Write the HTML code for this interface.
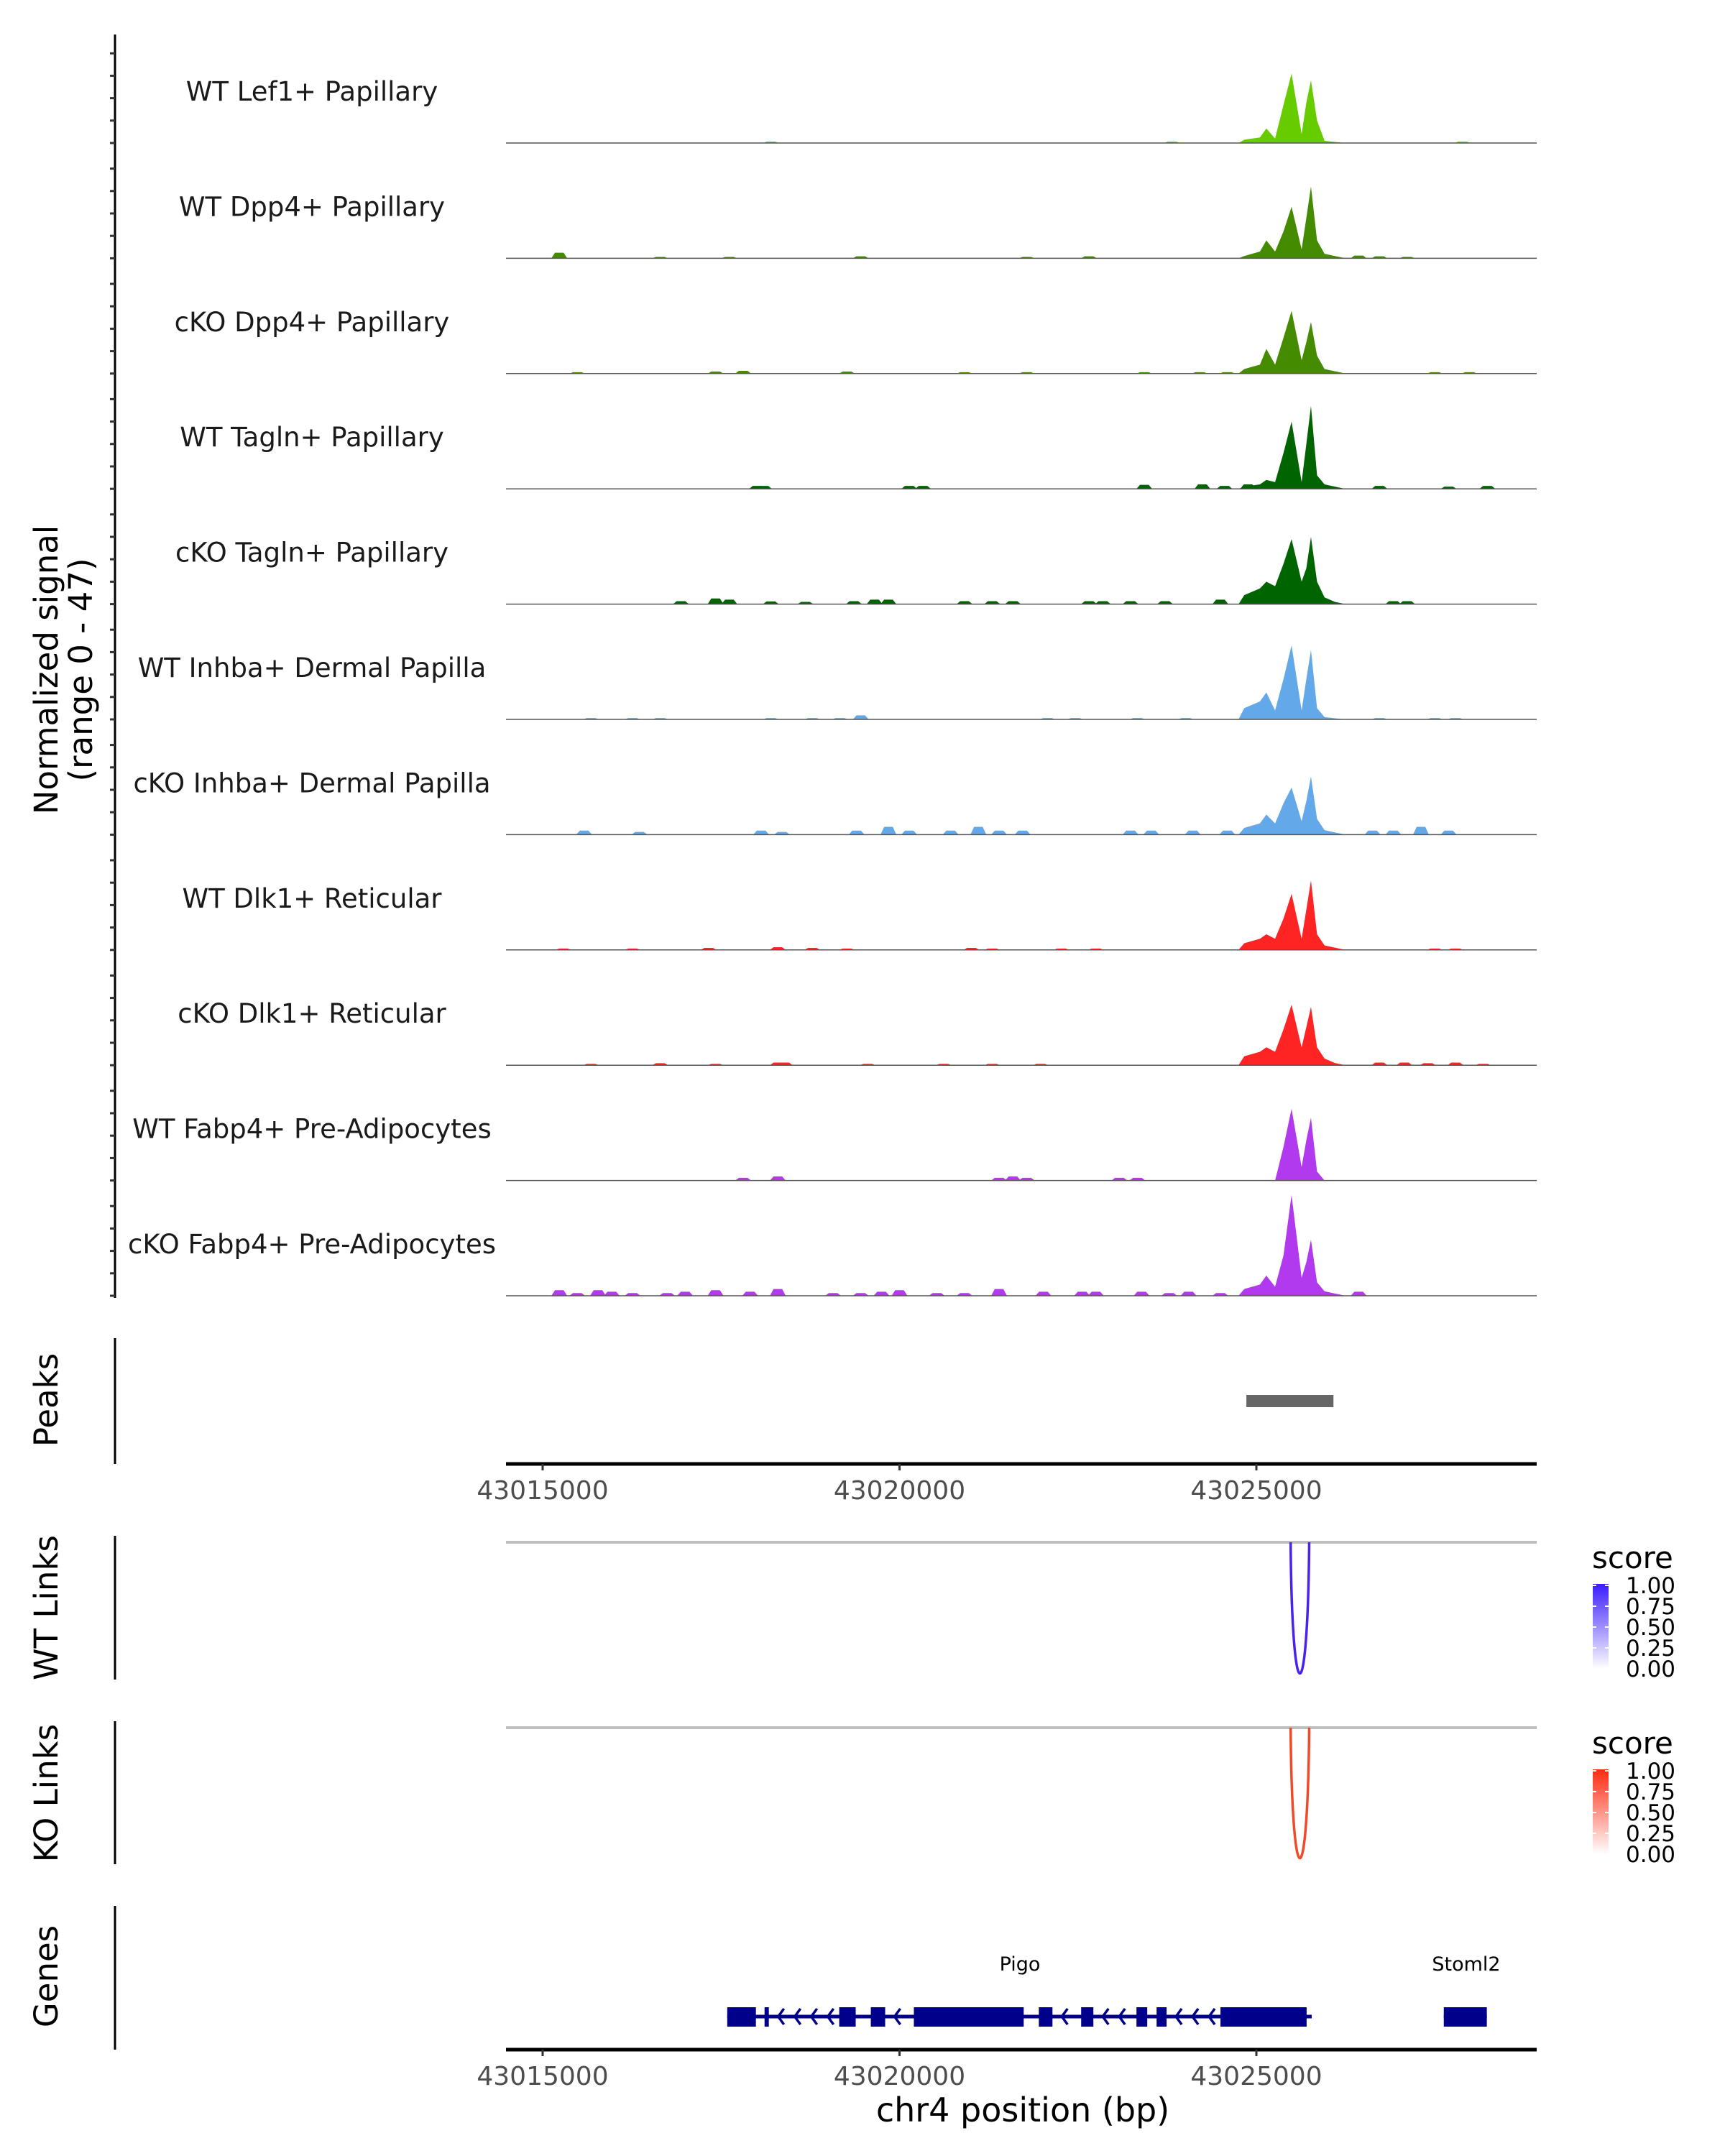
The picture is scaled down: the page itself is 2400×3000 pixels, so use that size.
<!DOCTYPE html>
<html><head><meta charset="utf-8"><style>
html,body{margin:0;padding:0;background:#fff;}
svg{display:block;font-family:"DejaVu Sans","Liberation Sans",sans-serif;}
</style></head><body>
<svg id="chart" width="2400" height="3000" viewBox="0 0 2400 3000" xmlns="http://www.w3.org/2000/svg">
<defs>
<linearGradient id="gradWT" x1="0" y1="1" x2="0" y2="0"><stop offset="0" stop-color="#ffffff"/><stop offset="1" stop-color="#3a1cff"/></linearGradient>
<linearGradient id="gradKO" x1="0" y1="1" x2="0" y2="0"><stop offset="0" stop-color="#ffffff"/><stop offset="1" stop-color="#ff2a10"/></linearGradient>
</defs>
<g id="tracks"></g>
<g id="lower"></g>
</svg>
<script>
const NS = "http://www.w3.org/2000/svg";
// ---------- data ----------
const trackNames = ["WT Lef1+ Papillary","WT Dpp4+ Papillary","cKO Dpp4+ Papillary","WT Tagln+ Papillary","cKO Tagln+ Papillary","WT Inhba+ Dermal Papilla","cKO Inhba+ Dermal Papilla","WT Dlk1+ Reticular","cKO Dlk1+ Reticular","WT Fabp4+ Pre-Adipocytes","cKO Fabp4+ Pre-Adipocytes"];
const trackColors = ["#66cc00","#458b00","#458b00","#006400","#006400","#63a9ea","#63a9ea","#ff2424","#ff2424","#b23aee","#b23aee"];
const peakPos = [43024750,43024830,43025050,43025140,43025262,43025380,43025493,43025634,43025700,43025765,43025850,43025955,43026100,43026250];
const sigLef1 = [0,1.5,2.5,6.5,2,17,31,4,18,28,10,1,0.5,0];
const sigDpp4WT = [0,1,3,8,3,12,23,4,18,32,8,2,1,0];
const sigDpp4KO = [0,2,4,11,4,16,28,6,14,23,8,2,1,0];
const sigTaglnWT = [0,1,2,4,3,16,30,3,20,37,6,2,1,0];
const sigTaglnKO = [0,4,7,10,8,18,29,10,16,30,10,3,1,0];
const sigInhbaWT = [0,5,8,12,4,18,33,4,18,31,5,1,0.5,0];
const sigInhbaKO = [0,3,5,9,5,14,21,6,15,26,7,2,1,0];
const sigDlk1WT = [0,3,5,7,5,14,25,5,18,31,7,2,1,0];
const sigDlk1KO = [0,4,6,8,6,16,27,8,17,26,8,3,1,0];
const sigFabp4WT = [0,0,0,0,0,15,32,6,18,28,4,0,0,0];
const sigFabp4KO = [0,3,5,9,4,18,45,8,15,25,6,2,1,0];
const peakSignals = [sigLef1,sigDpp4WT,sigDpp4KO,sigTaglnWT,sigTaglnKO,sigInhbaWT,sigInhbaKO,sigDlk1WT,sigDlk1KO,sigFabp4WT,sigFabp4KO];
// background bumps: [bp, height]
const bumpsLef1 = [[43018198,0.6],[43023818,0.6],[43027888,0.6]];
const bumpsDpp4WT = [[43015233,2.5],[43016647,0.6],[43017616,0.6],[43019457,0.9],[43021783,0.6],[43022655,0.9],[43026434,1.2],[43026725,0.9],[43027113,0.6]];
const bumpsDpp4KO = [[43015485,0.6],[43017423,0.9],[43017810,1.2],[43019264,0.9],[43020911,0.6],[43021783,0.6],[43023430,0.6],[43024206,0.6],[43024593,0.6],[43027500,0.6],[43027985,0.6]];
const bumpsTaglnWT = [[43018004,1.3],[43018101,1.3],[43020136,1.3],[43020330,1.3],[43023430,1.8],[43024244,2],[43024554,1.3],[43024884,2],[43026725,1.3],[43027694,1],[43028237,1.3]];
const bumpsTaglnKO = [[43016938,1.3],[43017423,2.5],[43017616,2],[43018198,1.2],[43018682,1],[43019361,1.3],[43019651,2],[43019845,2],[43020911,1.3],[43021299,1.3],[43021589,1.3],[43022655,1.3],[43022849,1.3],[43023237,1.3],[43023721,1.3],[43024496,2],[43026919,1.3],[43027113,1.3]];
const bumpsInhbaWT = [[43015678,0.6],[43016260,0.6],[43016647,0.6],[43018198,0.6],[43018779,0.6],[43019167,0.6],[43019457,1.8],[43022074,0.6],[43022461,0.6],[43023333,0.6],[43024012,0.6],[43026725,0.6],[43027500,0.6],[43027791,0.6]];
const bumpsInhbaKO = [[43015581,1.8],[43016357,1.2],[43018062,1.8],[43018353,1.2],[43019399,1.8],[43019845,3.5],[43020136,1.8],[43020717,1.8],[43021105,3.5],[43021395,1.8],[43021725,1.8],[43023237,1.8],[43023527,1.8],[43024109,1.8],[43024593,1.8],[43024942,1.8],[43026628,1.8],[43026919,1.8],[43027306,3.5],[43027694,1.8]];
const bumpsDlk1WT = [[43015291,0.6],[43016260,0.6],[43017326,0.9],[43018295,1.2],[43018779,0.9],[43019264,0.6],[43021008,0.9],[43021299,0.6],[43022268,0.6],[43022752,0.6],[43027500,0.6],[43027791,0.6]];
const bumpsDlk1KO = [[43015678,0.6],[43016647,0.9],[43017423,0.6],[43018295,1.2],[43018392,1.2],[43019554,0.6],[43020620,0.6],[43021299,0.6],[43021977,0.6],[43026725,1.2],[43027074,1.2],[43027403,0.9],[43027791,1.2],[43028178,0.6]];
const bumpsFabp4WT = [[43017810,1.2],[43018295,1.8],[43021395,1.2],[43021589,1.8],[43021783,1.2],[43023081,1.2],[43023333,1.2]];
const bumpsFabp4KO = [[43015233,2.5],[43015485,1.2],[43015775,2.5],[43015969,1.8],[43016260,1.2],[43016744,1.2],[43016996,1.8],[43017423,2.5],[43017907,1.8],[43018295,3],[43019070,1.2],[43019457,1.2],[43019748,1.8],[43020000,2.5],[43020523,1.2],[43020911,1.2],[43021395,3],[43022016,1.8],[43022558,1.8],[43022752,1.8],[43023392,1.8],[43023779,1.2],[43024050,1.8],[43024496,1.2],[43026434,1.8]];
const trackBumps = [bumpsLef1,bumpsDpp4WT,bumpsDpp4KO,bumpsTaglnWT,bumpsTaglnKO,bumpsInhbaWT,bumpsInhbaKO,bumpsDlk1WT,bumpsDlk1KO,bumpsFabp4WT,bumpsFabp4KO];
const peakRegion = [43024860, 43026080];
const linkWT = [43025480, 43025740, 1.0];
const linkKO = [43025480, 43025740, 1.0];
const xTicks = [43015000, 43020000, 43025000];
const legendTicks = ["1.00","0.75","0.50","0.25","0.00"];
const exonsPigo = [[43017586,43017988],[43018109,43018169],[43019155,43019386],[43019598,43019799],[43020201,43021740],[43021952,43022143],[43022545,43022716],[43023320,43023471],[43023602,43023742],[43024497,43025704]];
const genePigo = [43017586, 43025775];
const exonsStoml2 = [[43027626,43028229]];
const geneStoml2 = [43027626, 43028229];

// ---------- scales ----------
const X0 = 704, X1 = 2138;
function xs(bp){ return 755 + (bp - 43015000) * 0.0993; }
const PX_PER_UNIT = 3.12;
function baseY(i){ return 199 + 160.4 * i; }

function el(tag, attrs, parent){
  const e = document.createElementNS(NS, tag);
  for (const k in attrs) e.setAttribute(k, attrs[k]);
  parent.appendChild(e);
  return e;
}
const tracksG = document.getElementById("tracks");
const lowerG = document.getElementById("lower");

let ax = el("line", {x1:160, y1:48, x2:160, y2:1806, stroke:"#000", "stroke-width":3}, tracksG);


for (let i = 0; i < trackNames.length; i++){
  for (let k = 0; k < 5; k++){
    const y = baseY(i) - k * 10 * PX_PER_UNIT;
    const t = el("line", {x1:153, y1:y, x2:160, y2:y, stroke:"#333", "stroke-width":3}, tracksG);
    
    
  }
}
const yt = el("text", {transform:"translate(80,932) rotate(-90)", "text-anchor":"middle", "font-size":45, fill:"#000"}, tracksG);


const yt1 = el("tspan", {x:0, y:0}, yt); yt1.textContent = "Normalized signal";
const yt2 = el("tspan", {x:0, y:48}, yt); yt2.textContent = "(range 0 - 47)";

for (let i = 0; i < trackNames.length; i++){
  const g = el("g", {}, tracksG);
  
  
  const b = baseY(i);
  const col = trackColors[i];
  for (const [bp, h] of trackBumps[i]){
    const cx = xs(bp), hy = b - h * PX_PER_UNIT;
    const p = el("path", {d:`M${cx-11},${b} L${cx-6},${hy} L${cx+6},${hy} L${cx+11},${b} Z`, fill:col}, g);
    
    
  }
  let d = `M${xs(peakPos[0])},${b}`;
  const sig = peakSignals[i];
  for (let k = 0; k < peakPos.length; k++) d += ` L${xs(peakPos[k])},${b - sig[k] * PX_PER_UNIT}`;
  d += ` L${xs(peakPos[peakPos.length-1])},${b} Z`;
  const pk = el("path", {d, fill:col}, g);
  
  
  const bl = el("line", {x1:X0, y1:b, x2:X1, y2:b, stroke:"#555", "stroke-width":1.5}, g);
  
  
  const lab = el("text", {x:434, y:b - 59, "text-anchor":"middle", "font-size":37, fill:"#1a1a1a"}, g);
  lab.textContent = trackNames[i];
  
  
}

function panelTitle(txt, cy, name){
  const t = el("text", {transform:`translate(80,${cy}) rotate(-90)`, "text-anchor":"middle", "font-size":45, fill:"#000"}, lowerG);
  t.textContent = txt;
  
  
}
function vline(y1, y2, name){
  const l = el("line", {x1:160, y1, x2:160, y2, stroke:"#000", "stroke-width":3}, lowerG);
  
  
}
function xAxis(y, name){
  const g = el("g", {}, lowerG);
  
  
  el("line", {x1:X0, y1:y, x2:X1, y2:y, stroke:"#000", "stroke-width":5}, g);
  for (const t of xTicks){
    el("line", {x1:xs(t), y1:y, x2:xs(t), y2:y+9, stroke:"#333", "stroke-width":3}, g);
    const tx = el("text", {x:xs(t), y:y+49, "text-anchor":"middle", "font-size":36, fill:"#4d4d4d"}, g);
    tx.textContent = t;
    
    
  }
}
panelTitle("Peaks", 1948, "peaks-title");
vline(1862, 2037, "peaks-axis-line");
const pr = el("rect", {x:xs(peakRegion[0]), y:1941, width:xs(peakRegion[1]) - xs(peakRegion[0]), height:17, fill:"#666"}, lowerG);


xAxis(2037, "peaks-x-axis");

function linksPanel(title, cyTitle, top, bottom, link, color, grad, legTop, name){
  panelTitle(title, cyTitle, name + "-title");
  vline(top - 9, bottom + 8, name + "-axis-line");
  const gl = el("line", {x1:X0, y1:top, x2:X1, y2:top, stroke:"#bebebe", "stroke-width":4}, lowerG);
  
  
  const a = xs(link[0]), c = xs(link[1]);
  const depth = (bottom - top) * link[2];
  const arc = el("path", {d:`M${a},${top} C${a+2},${top+depth*1.33} ${c-2},${top+depth*1.33} ${c},${top}`, fill:"none", stroke:color, "stroke-width":3.5}, lowerG);
  
  
  const lg = el("g", {}, lowerG);
  
  
  const st = el("text", {x:2215, y:legTop, "font-size":42, fill:"#000"}, lg);
  st.textContent = "score";
  el("rect", {x:2216, y:legTop + 22, width:22, height:118, fill:`url(#${grad})`}, lg);
  for (let k = 0; k < legendTicks.length; k++){
    const y = legTop + 24 + k * 29;
    el("line", {x1:2216, y1:y, x2:2221, y2:y, stroke:"#fff", "stroke-width":2}, lg);
    el("line", {x1:2233, y1:y, x2:2238, y2:y, stroke:"#fff", "stroke-width":2}, lg);
    const lt = el("text", {x:2262, y:y + 11, "font-size":31, fill:"#000"}, lg);
    lt.textContent = legendTicks[k];
  }
}
linksPanel("WT Links", 2237, 2146, 2329, linkWT, "#4a22ee", "gradWT", 2182, "wt-links");
linksPanel("KO Links", 2495, 2404, 2586, linkKO, "#f04a2a", "gradKO", 2440, "ko-links");

panelTitle("Genes", 2750, "genes-title");
vline(2652, 2852, "genes-axis-line");
function drawGene(name, span, exons, labelX){
  const g = el("g", {}, lowerG);
  
  
  const y = 2806;
  el("line", {x1:xs(span[0]), y1:y, x2:xs(span[1]), y2:y, stroke:"#00008b", "stroke-width":5}, g);
  for (let k = 0; k < exons.length - 1; k++){
    const s = xs(exons[k][1]) + 14, e = xs(exons[k+1][0]) - 8;
    for (let x = s; x < e; x += 23){
      el("path", {d:`M${x+7},${y-11} L${x-1},${y} L${x+7},${y+11}`, fill:"none", stroke:"#00008b", "stroke-width":3.5}, g);
    }
  }
  for (const [s, e] of exons){
    el("rect", {x:xs(s), y:y-13, width:Math.max(3, xs(e)-xs(s)), height:27, fill:"#00008b"}, g);
  }
  const t = el("text", {x:labelX, y:2742, "text-anchor":"middle", "font-size":27, fill:"#000"}, g);
  t.textContent = name;
}
drawGene("Pigo", genePigo, exonsPigo, 1419);
drawGene("Stoml2", geneStoml2, exonsStoml2, 2040);
xAxis(2852, "genes-x-axis");
const xt = el("text", {x:1423, y:2952, "text-anchor":"middle", "font-size":46, fill:"#000"}, lowerG);
xt.textContent = "chr4 position (bp)";


</script>
</body></html>
